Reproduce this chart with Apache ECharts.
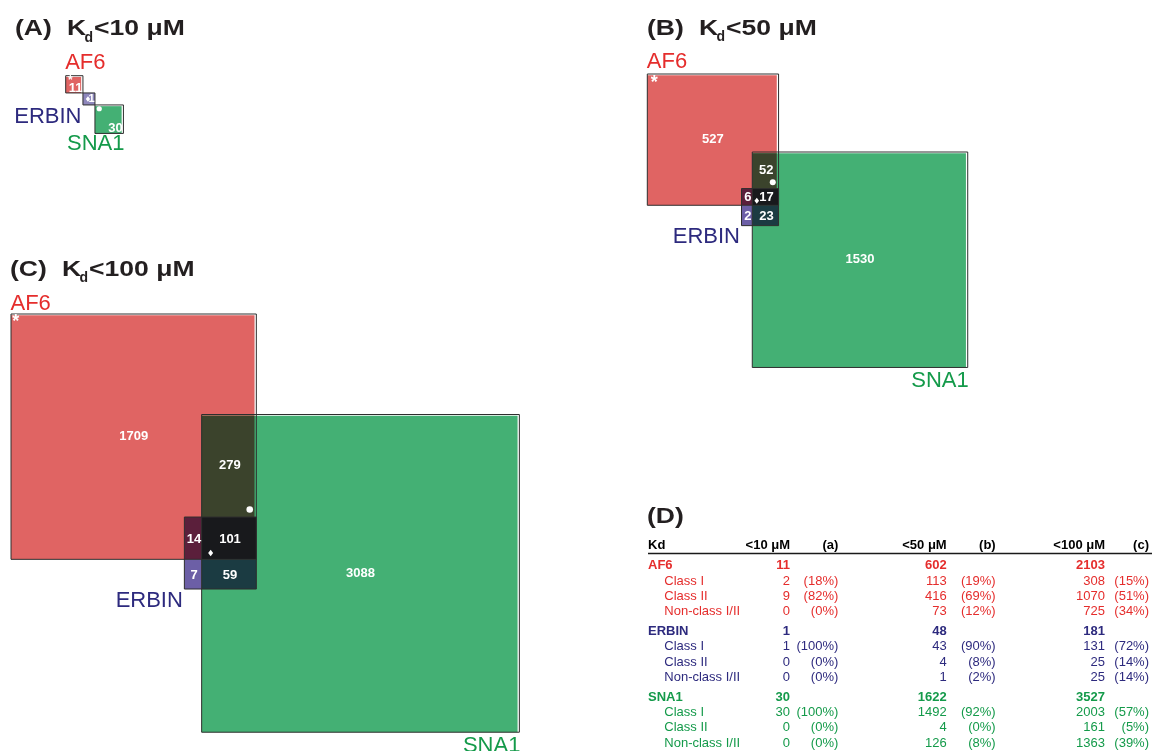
<!DOCTYPE html>
<html><head><meta charset="utf-8">
<script src="https://cdn.jsdelivr.net/npm/echarts@6/dist/echarts.min.js"></script>
<style>html,body{margin:0;padding:0;background:#fff}#c{width:1164px;height:751px}</style>
</head><body><div id="c"></div>
<script>
// ---------------- DATA ----------------
const panelLetters = ['(A)', '(B)', '(C)'];
const kdThresholds = ['<10 μM', '<50 μM', '<100 μM'];
const pctHeaders = ['(a)', '(b)', '(c)'];
const proteins = ['AF6', 'ERBIN', 'SNA1'];
const classNames = ['Class I', 'Class II', 'Non-class I/II'];
// region counts per panel (A: <10, B: <50, C: <100)
const af6Only   = [11, 527, 1709];
const erbinOnly = [1, 2, 7];
const sna1Only  = [30, 1530, 3088];
const af6Sna1   = [0, 52, 279];
const af6Erbin  = [0, 6, 14];
const erbinSna1 = [0, 23, 59];
const all3      = [0, 17, 101];
// totals per threshold
const af6Total   = [11, 602, 2103];
const erbinTotal = [1, 48, 181];
const sna1Total  = [30, 1622, 3527];
// class breakdown rows: [Class I, Class II, Non-class] x thresholds
const af6Class   = [[2, 113, 308], [9, 416, 1070], [0, 73, 725]];
const erbinClass = [[1, 43, 131], [0, 4, 25], [0, 1, 25]];
const sna1Class  = [[30, 1492, 2003], [0, 4, 161], [0, 126, 1363]];

// ---------------- STYLE / LAYOUT ----------------
const FONT = '"Liberation Sans", Arial, Helvetica, sans-serif';
const C = {
  af6: '#e06463', sna1: '#44b074', erbin: '#6c5fa6',
  af6Sna1: '#3b432c', af6Erbin: '#5b1f3b', erbinSna1: '#1b3b42', all3: '#18191c',
  outline: '#2e2e2e',
  af6Text: '#e52d2c', erbinText: '#2d2a7e', sna1Text: '#149a4a'
};
const LAYOUT = [
  { mode: 'chain', k: 5.2, minSide: 12, af6: [65.7, 75.7], erbinOnlyColor: '#8e87bc',
    title: { x: 15, cy: 28.7, dcy: 37.8 }, af6LabelDy: -12.7, erbinLabelDy: 12.2, sna1LabelDy: 10.5,
    star: { dx: 2.2, dy: 5.3, size: 12 }, dot: { dx: 4.3, dy: 3.8, r: 2.6 }, diamond: { dx: 5, dy: 6, w: 2.2, h: 2.8 } },
  { mode: 'overlap', k: 5.35, af6: [647.3, 74], sna1D: [-26.3, 78], erbinDy: -16.7,
    title: { x: 647, cy: 28.7, dcy: 36.7 }, af6LabelDy: -12.3, erbinLabelDy: 11.7, sna1LabelDy: 13,
    star: { dx: 3.5, dy: 9, size: 18 }, dot: { dx: -5.8, dy: -6.3, r: 3 }, diamond: { dx: 4.5, dy: -4.5, w: 2.3, h: 3 } },
  { mode: 'overlap', k: 5.35, af6: [11, 314], sna1D: [-54.7, 100.5], erbinDy: -42.3,
    title: { x: 10, cy: 269.7, dcy: 278.2 }, af6LabelDy: -10, erbinLabelDy: 11.5, sna1LabelDy: 13.5,
    star: { dx: 1.2, dy: 8.5, size: 18 }, dot: { dx: -6.6, dy: -7.5, r: 3.3 }, diamond: { dx: 9, dy: -6.3, w: 2.5, h: 3.2 } }
];
const TITLE_OFF = { k: 52, d: 69.5, rest: 79 };
const TABLE = {
  left: 648, subLeft: 664.3, headerY: 545, lineY: 553.5, lineRight: 1152,
  firstRow: 565.9, rowStep: 15.3, groupStep: 65.6,
  countRight: [790, 946.7, 1105], pctRight: [838.3, 995.7, 1149],
  dTitle: { x: 647, cy: 517.2 }
};

// ---------------- GEOMETRY ----------------
function sq(x0, y0, s) { return { x0: x0, y0: y0, x1: x0 + s, y1: y0 + s }; }
function geom(i) {
  const L = LAYOUT[i];
  const sA = L.k * Math.sqrt(af6Total[i]);
  const sE = Math.max(L.minSide || 0, L.k * Math.sqrt(erbinTotal[i]));
  const sS = L.k * Math.sqrt(sna1Total[i]);
  const a = sq(L.af6[0], L.af6[1], sA);
  let e, s;
  if (L.mode === 'chain') { e = sq(a.x1, a.y1, sE); s = sq(e.x1, e.y1, sS); }
  else { s = sq(a.x1 + L.sna1D[0], a.y0 + L.sna1D[1], sS); e = sq(a.x1 - sE, a.y1 + L.erbinDy, sE); }
  return { a: a, e: e, s: s };
}
function inset(r) { return { x0: r.x0, y0: r.y0 + 1.2, x1: r.x1 - 1.8, y1: r.y1 }; }
function inter(p, q) {
  const r = { x0: Math.max(p.x0, q.x0), y0: Math.max(p.y0, q.y0), x1: Math.min(p.x1, q.x1), y1: Math.min(p.y1, q.y1) };
  return (r.x1 > r.x0 && r.y1 > r.y0) ? r : null;
}
function inside(r, x, y) { return x > r.x0 && x < r.x1 && y > r.y0 && y < r.y1; }
function clamp(v, lo, hi) { return Math.max(lo, Math.min(hi, v)); }

function renderItem(params, api) {
  const i = api.value(0);
  const L = LAYOUT[i];
  const g = geom(i), a = g.a, e = g.e, s = g.s;
  const P = (x, y) => api.coord([x, y]);
  const rect = (r, style) => {
    const p = P(r.x0, r.y0), q = P(r.x1, r.y1);
    return { type: 'rect', shape: { x: p[0], y: p[1], width: q[0] - p[0], height: q[1] - p[1] }, style: style };
  };
  const txt = (t, x, y, size, color, align, weight) => {
    const p = P(x, y);
    return { type: 'text', x: p[0], y: p[1], style: { text: String(t), fill: color,
      font: (weight || 'bold') + ' ' + size + 'px ' + FONT, align: align || 'center', verticalAlign: 'middle',
      textAlign: align || 'center', textVerticalAlign: 'middle' } };
  };
  const kids = [];
  // fills
  const aF = inset(a), sF = inset(s);
  kids.push(rect(aF, { fill: C.af6 }));
  kids.push(rect(sF, { fill: C.sna1 }));
  const ov = inter(aF, sF);
  if (ov) kids.push(rect(ov, { fill: C.af6Sna1 }));
  // ERBIN cells split by SNA1 left edge and AF6 bottom edge
  const xs = [e.x0, clamp(s.x0, e.x0, e.x1), e.x1];
  const ys = [e.y0, clamp(a.y1, e.y0, e.y1), e.y1];
  const cellLabels = [];
  for (let yi = 0; yi < 2; yi++) for (let xi = 0; xi < 2; xi++) {
    const r = { x0: xs[xi], y0: ys[yi], x1: xs[xi + 1], y1: ys[yi + 1] };
    if (r.x1 - r.x0 < 0.01 || r.y1 - r.y0 < 0.01) continue;
    const cx = (r.x0 + r.x1) / 2, cy = (r.y0 + r.y1) / 2;
    const inA = inside(a, cx, cy), inS = inside(s, cx, cy);
    let color, count;
    if (inA && inS) { color = C.all3; count = all3[i]; }
    else if (inA) { color = C.af6Erbin; count = af6Erbin[i]; }
    else if (inS) { color = C.erbinSna1; count = erbinSna1[i]; }
    else { color = L.erbinOnlyColor || C.erbin; count = erbinOnly[i]; }
    kids.push(rect(r, { fill: color }));
    cellLabels.push({ r: r, cx: cx, cy: cy, count: count });
  }
  // outlines
  const ol = { fill: 'none', stroke: C.outline, lineWidth: 1 };
  kids.push(rect(a, ol)); kids.push(rect(s, ol)); kids.push(rect(e, ol));
  // markers
  const st = L.star;
  kids.push(txt('*', a.x0 + st.dx, a.y0 + st.dy, st.size, '#fff', 'left'));
  let dp, dm;
  if (L.mode === 'chain') {
    dp = [s.x0 + L.dot.dx, s.y0 + L.dot.dy];
    dm = [e.x0 + L.diamond.dx, e.y0 + L.diamond.dy];
  } else {
    dp = [a.x1 + L.dot.dx, e.y0 + L.dot.dy];
    dm = [s.x0 + L.diamond.dx, a.y1 + L.diamond.dy];
  }
  const dpp = P(dp[0], dp[1]);
  kids.push({ type: 'circle', shape: { cx: dpp[0], cy: dpp[1], r: L.dot.r }, style: { fill: '#fff' } });
  const dmp = P(dm[0], dm[1]), w = L.diamond.w, h = L.diamond.h;
  kids.push({ type: 'polygon', shape: { points: [[dmp[0], dmp[1] - h], [dmp[0] + w, dmp[1]], [dmp[0], dmp[1] + h], [dmp[0] - w, dmp[1]]] }, style: { fill: '#fff' } });
  // count labels
  if (L.mode === 'chain') {
    kids.push(txt(af6Only[i], a.x1 - 0.5, a.y1 - 4.6, 13, '#fff', 'right'));
    kids.push(txt(sna1Only[i], s.x1 - 0.8, s.y1 - 5.2, 13, '#fff', 'right'));
    cellLabels.forEach(c => kids.push(txt(c.count, c.r.x1 - 0.3, c.r.y1 - 5.5, 11, '#fff', 'right')));
  } else {
    kids.push(txt(af6Only[i], (a.x0 + a.x1) / 2, (a.y0 + a.y1) / 2, 13, '#fff'));
    kids.push(txt(sna1Only[i], (s.x0 + s.x1) / 2, (s.y0 + s.y1) / 2, 13, '#fff'));
    kids.push(txt(af6Sna1[i], (s.x0 + a.x1) / 2 + 0.8, (s.y0 + e.y0) / 2, 13, '#fff'));
    cellLabels.forEach(c => kids.push(txt(c.count, c.cx + 1, c.cy + 0.8, 13, '#fff')));
  }
  // protein names
  kids.push(txt(proteins[0], a.x0 - 0.5, a.y0 + L.af6LabelDy, 22, C.af6Text, 'left', 'normal'));
  kids.push(txt(proteins[1], e.x0 - 1.5, e.y1 + L.erbinLabelDy, 22, C.erbinText, 'right', 'normal'));
  kids.push(txt(proteins[2], s.x1 + 1, s.y1 + L.sna1LabelDy, 22, C.sna1Text, 'right', 'normal'));
  return { type: 'group', children: kids };
}

// ---------------- TITLES & TABLE (graphic) ----------------
const G = [];
function gtext(t, x, y, size, color, align, weight, scaleX) {
  G.push({ type: 'text', x: x, y: y, scaleX: scaleX || 1, silent: true,
    style: { text: String(t), fill: color, font: (weight || 'normal') + ' ' + size + 'px ' + FONT,
      align: align || 'left', verticalAlign: 'middle', textAlign: align || 'left', textVerticalAlign: 'middle' } });
}
const TS = 22.5, TSX = 1.18;
LAYOUT.forEach((L, i) => {
  const t = L.title;
  gtext(panelLetters[i], t.x, t.cy, TS, '#231f20', 'left', 'bold', TSX);
  gtext('K', t.x + TITLE_OFF.k, t.cy, TS, '#231f20', 'left', 'bold', TSX);
  gtext('d', t.x + TITLE_OFF.d, t.dcy, 14, '#231f20', 'left', 'bold', 1);
  gtext(kdThresholds[i], t.x + TITLE_OFF.rest, t.cy, TS, '#231f20', 'left', 'bold', TSX);
});
gtext('(D)', TABLE.dTitle.x, TABLE.dTitle.cy, TS, '#231f20', 'left', 'bold', TSX);
// header
gtext('Kd', TABLE.left, TABLE.headerY, 13, '#000', 'left', 'bold');
kdThresholds.forEach((k, j) => {
  gtext(k, TABLE.countRight[j], TABLE.headerY, 13, '#000', 'right', 'bold');
  gtext(pctHeaders[j], TABLE.pctRight[j], TABLE.headerY, 13, '#000', 'right', 'bold');
});
G.push({ type: 'line', silent: true, shape: { x1: TABLE.left, y1: TABLE.lineY, x2: TABLE.lineRight, y2: TABLE.lineY },
  style: { stroke: '#1a1a1a', lineWidth: 1.3 } });
const groups = [
  { name: proteins[0], total: af6Total, rows: af6Class, color: C.af6Text },
  { name: proteins[1], total: erbinTotal, rows: erbinClass, color: C.erbinText },
  { name: proteins[2], total: sna1Total, rows: sna1Class, color: C.sna1Text }
];
groups.forEach((gr, gi) => {
  const y0 = TABLE.firstRow + gi * TABLE.groupStep;
  gtext(gr.name, TABLE.left, y0, 13, gr.color, 'left', 'bold');
  gr.total.forEach((v, j) => gtext(v, TABLE.countRight[j], y0, 13, gr.color, 'right', 'bold'));
  gr.rows.forEach((row, ri) => {
    const y = y0 + (ri + 1) * TABLE.rowStep;
    gtext(classNames[ri], TABLE.subLeft, y, 13, gr.color, 'left', 'normal');
    row.forEach((v, j) => {
      gtext(v, TABLE.countRight[j], y, 13, gr.color, 'right', 'normal');
      const pct = gr.total[j] ? Math.round(100 * v / gr.total[j]) : 0;
      gtext('(' + pct + '%)', TABLE.pctRight[j], y, 13, gr.color, 'right', 'normal');
    });
  });
});

const chart = echarts.init(document.getElementById('c'), null, { renderer: 'canvas' });
chart.setOption({
  animation: false,
  backgroundColor: '#fff',
  grid: { left: 0, right: 0, top: 0, bottom: 0 },
  xAxis: { type: 'value', min: 0, max: 1164, show: false },
  yAxis: { type: 'value', min: 0, max: 751, inverse: true, show: false },
  series: [{ type: 'custom', data: [[0], [1], [2]], renderItem: renderItem, clip: false, silent: true }],
  graphic: { elements: G }
});
</script>
</body></html>
